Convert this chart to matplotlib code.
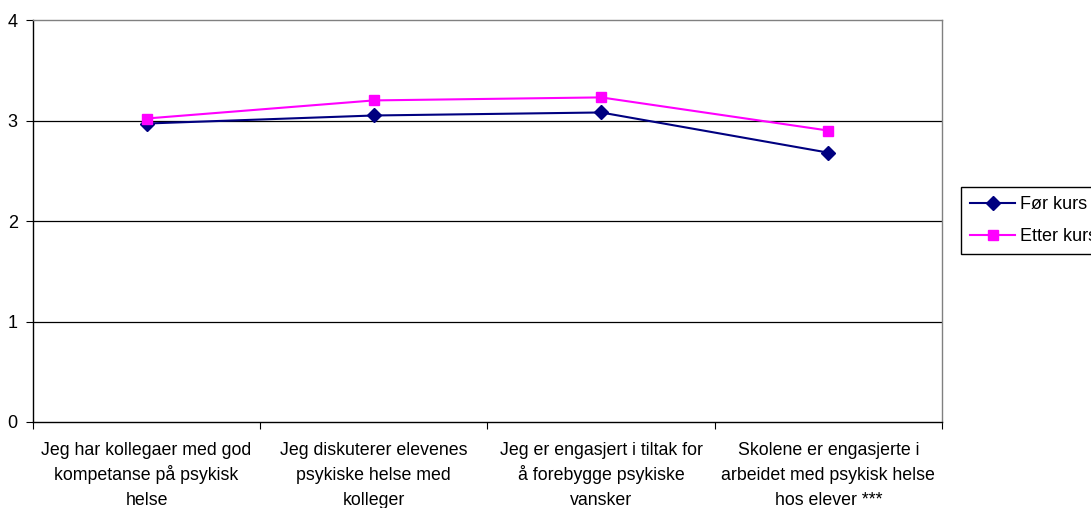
import matplotlib
matplotlib.use('Agg')
import matplotlib.pyplot as plt

plt.rcParams['font.family'] = ['Liberation Sans', 'DejaVu Sans']

# data
categories = ['Jeg har kollegaer med god\nkompetanse på psykisk\nhelse',
              'Jeg diskuterer elevenes\npsykiske helse med\nkolleger',
              'Jeg er engasjert i tiltak for\nå forebygge psykiske\nvansker',
              'Skolene er engasjerte i\narbeidet med psykisk helse\nhos elever ***']
for_kurs = [2.97, 3.05, 3.08, 2.68]
etter_kurs = [3.02, 3.20, 3.23, 2.90]
y_ticks = [0, 1, 2, 3, 4]

fig = plt.figure(figsize=(10.91, 5.08), dpi=100)
ax = fig.add_axes([0.0302, 0.1693, 0.8332, 0.7913])

x = list(range(len(categories)))
l1, = ax.plot(x, for_kurs, color='#000080', marker='D', markersize=7.5,
              linewidth=1.5, label='Før kurs', zorder=3)
l2, = ax.plot(x, etter_kurs, color='#FF00FF', marker='s', markersize=7.5,
              linewidth=1.5, label='Etter kurs', zorder=3)

ax.set_xlim(-0.5, len(categories) - 0.5)
ax.set_ylim(0, 4)
ax.set_yticks(y_ticks)
ax.tick_params(axis='y', labelsize=13, length=5, direction='out', pad=6)
for v in y_ticks[1:-1]:
    ax.axhline(v, color='black', linewidth=0.9, zorder=1)

# category ticks between groups
ax.set_xticks([i - 0.5 for i in range(len(categories) + 1)])
ax.set_xticklabels([])
ax.tick_params(axis='x', which='major', length=5, direction='out')

# category labels, one line at a time so the baselines are evenly spaced
for i, lab in enumerate(categories):
    for j, line in enumerate(lab.split('\n')):
        ax.annotate(line, xy=(i, 0), xycoords=ax.get_xaxis_transform(),
                    xytext=(0, -23.8 - 18 * j), textcoords='offset points',
                    ha='center', va='baseline', fontsize=12.8,
                    annotation_clip=False)

ax.spines['left'].set_color('black')
ax.spines['bottom'].set_color('black')
ax.spines['top'].set_color('#808080')
ax.spines['right'].set_color('#808080')
for s in ax.spines.values():
    s.set_linewidth(1.0)

leg = fig.legend(handles=[l1, l2], loc='upper left',
                 bbox_to_anchor=(0.881, 0.632), fontsize=13,
                 frameon=True, fancybox=False, framealpha=1,
                 edgecolor='black', handlelength=2.5, borderpad=0.5,
                 labelspacing=0.85, handletextpad=0.25, borderaxespad=0)
leg.get_frame().set_linewidth(1.0)

fig.savefig('out.png', dpi=100)
